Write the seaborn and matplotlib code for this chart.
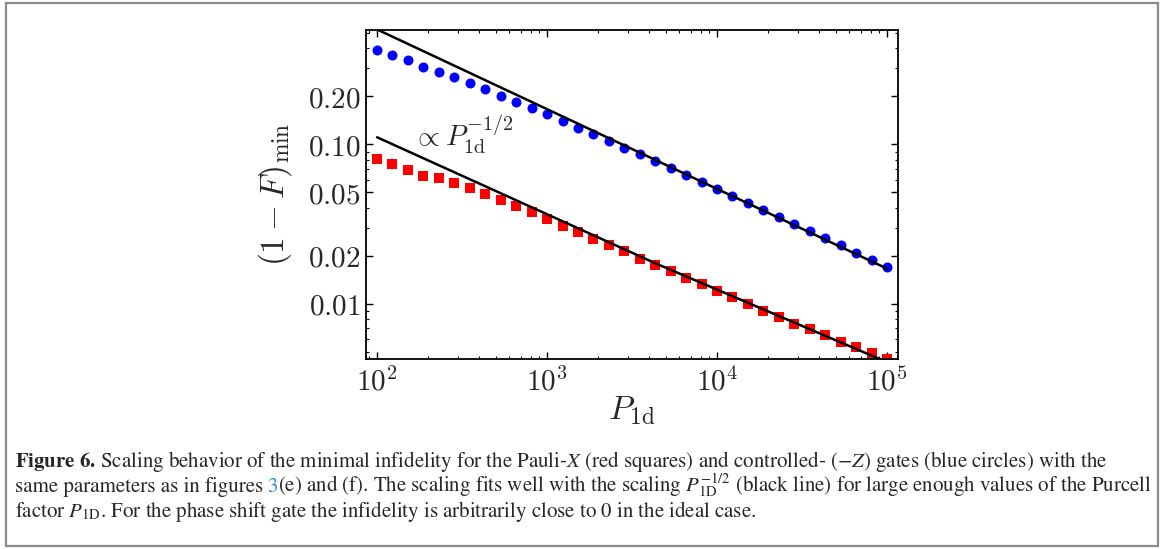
import numpy as np
import pandas as pd
import matplotlib
matplotlib.use("Agg")
import matplotlib.pyplot as plt
import matplotlib.ticker as mticker
from matplotlib.patches import Rectangle
import seaborn as sns

# ── data ──────────────────────────────────────────────────────
p1d = [100, 123, 152, 187, 231, 285, 351, 433, 534, 658, 811,
       1000, 1233, 1520, 1874, 2310, 2848, 3511, 4329, 5337, 6579, 8111,
       10000, 12328, 15199, 18738, 23101, 28480, 35112, 43288, 53367, 65793, 81113,
       100000]

# controlled-(-Z), blue circles
cz_infid = [0.390, 0.363, 0.338, 0.307, 0.284, 0.263, 0.241, 0.221, 0.202, 0.184, 0.169,
            0.154, 0.140, 0.127, 0.116, 0.105, 0.0952, 0.0866, 0.0782, 0.0707, 0.0642, 0.0580,
            0.0524, 0.0474, 0.0428, 0.0387, 0.0350, 0.0316, 0.0285, 0.0257, 0.0233, 0.0209, 0.0189,
            0.0171]

# Pauli-X, red squares
px_infid = [0.0805, 0.0749, 0.0687, 0.0635, 0.0612, 0.0569, 0.0530, 0.0486, 0.0445, 0.0408, 0.0374,
            0.0338, 0.0309, 0.0280, 0.0256, 0.0232, 0.0213, 0.0192, 0.0174, 0.0160, 0.0144, 0.0132,
            0.0120, 0.0110, 0.00991, 0.00904, 0.00822, 0.00749, 0.00691, 0.00634, 0.00577, 0.00533, 0.00489,
            0.00448]

# black guide lines, as traced
fit_cz_x = [100, 100000]
fit_cz_y = [0.525, 0.0166]
fit_px_x = [100, 4350, 100000]
fit_px_y = [0.1106, 0.0179, 0.0043]

xticks = [1e2, 1e3, 1e4, 1e5]
xticklabels = [r"$10^{2}$", r"$10^{3}$", r"$10^{4}$", r"$10^{5}$"]
yticks = [0.01, 0.02, 0.05, 0.1, 0.2]
yticklabels = [r"$0.01$", r"$0.02$", r"$0.05$", r"$0.10$", r"$0.20$"]

df_cz = pd.DataFrame({"P": p1d, "infid": cz_infid})
df_px = pd.DataFrame({"P": p1d, "infid": px_infid})
df_fit = pd.DataFrame({"P": fit_cz_x + fit_px_x, "infid": fit_cz_y + fit_px_y,
                       "gate": ["cz"] * len(fit_cz_x) + ["px"] * len(fit_px_x)})

# ── style ─────────────────────────────────────────────────────
sns.set_style("ticks")
plt.rcParams["mathtext.fontset"] = "cm"
plt.rcParams["font.family"] = ["DejaVu Serif"]

W, H = 1168, 549
fig = plt.figure(figsize=(W / 100, H / 100), dpi=100)
fig.patch.set_facecolor("white")

L, R, T, B = 366, 897.7, 30, 359.3
ax = fig.add_axes([L / W, 1 - B / H, (R - L) / W, (B - T) / H])
ax.set_xscale("log")
ax.set_yscale("log")

sns.scatterplot(data=df_cz, x="P", y="infid", color="#0000ff", marker="o",
                s=52, linewidth=0, ax=ax, zorder=2)
sns.scatterplot(data=df_px, x="P", y="infid", color="#ff0000", marker="s",
                s=46, linewidth=0, ax=ax, zorder=2)
sns.lineplot(data=df_fit, x="P", y="infid", units="gate", estimator=None, sort=False,
             color="black", lw=1.8, ax=ax, zorder=3)

ax.set_xlim(86, 1.156e5)
ax.set_ylim(0.00448, 0.521)

ax.xaxis.set_major_locator(mticker.FixedLocator(xticks))
ax.xaxis.set_major_formatter(mticker.FixedFormatter(xticklabels))
ax.xaxis.set_minor_locator(mticker.LogLocator(base=10, subs=np.arange(2, 10)))
ax.xaxis.set_minor_formatter(mticker.NullFormatter())
ax.yaxis.set_major_locator(mticker.FixedLocator(yticks))
ax.yaxis.set_major_formatter(mticker.FixedFormatter(yticklabels))
ax.yaxis.set_minor_locator(mticker.LogLocator(base=10, subs=np.arange(2, 10)))
ax.yaxis.set_minor_formatter(mticker.NullFormatter())

ax.tick_params(which="both", direction="in", top=True, right=True, color="black")
ax.tick_params(which="major", length=5, width=1.0, labelsize=21)
ax.tick_params(which="minor", length=2.5, width=0.8)
ax.tick_params(axis="x", pad=6)
ax.tick_params(axis="y", pad=4)
for s in ax.spines.values():
    s.set_linewidth(1.3)
    s.set_color("black")

ax.set_xlabel(r"$P_{\rm 1d}$", fontsize=24)
ax.set_ylabel(r"$(1-F)_{\rm min}$", fontsize=24)
ax.xaxis.set_label_coords(0.5, -0.105)
ax.yaxis.set_label_coords(-0.136, 0.5)

ax.text(163, 0.0966, r"$\propto P_{\rm 1d}^{-1/2}$", fontsize=20.5, ha="left", va="baseline")

# ── caption ───────────────────────────────────────────────────
cap_kw = dict(family="STIXGeneral", math_fontfamily="stix", fontsize=15.0, va="baseline")
x0 = 15 / W
line1 = (r"$\mathbf{Figure\ 6.}\,$Scaling behavior of the minimal infidelity for the Pauli-$X$"
         r" (red squares) and controlled- $(-Z)$ gates (blue circles) with the")
fig.text(x0, 1 - 467 / H, line1, **cap_kw)

y2 = 1 - 492 / H
t2a = fig.text(x0, y2, "same parameters as in figures", **cap_kw)
fig.canvas.draw()
rend = fig.canvas.get_renderer()
bb = t2a.get_window_extent(rend)
t2b = fig.text((bb.x1 + 4) / W, y2, "3", color="#2a8fd8", **cap_kw)
bb = t2b.get_window_extent(rend)
fig.text(bb.x1 / W, y2,
         r"(e) and (f). The scaling fits well with the scaling $P_{\rm 1D}^{-1/2}$"
         r" (black line) for large enough values of the Purcell", **cap_kw)

fig.text(x0, 1 - 517 / H,
         r"factor $P_{\rm 1D}$. For the phase shift gate the infidelity is arbitrarily"
         r" close to 0 in the ideal case.", **cap_kw)

fig.patches.append(Rectangle((6 / W, 1 - 546 / H), (1158 - 6) / W, (546 - 3) / H,
                             transform=fig.transFigure, fill=False,
                             edgecolor="#8a8a8a", lw=1.6))

fig.savefig("out.png", dpi=100)
